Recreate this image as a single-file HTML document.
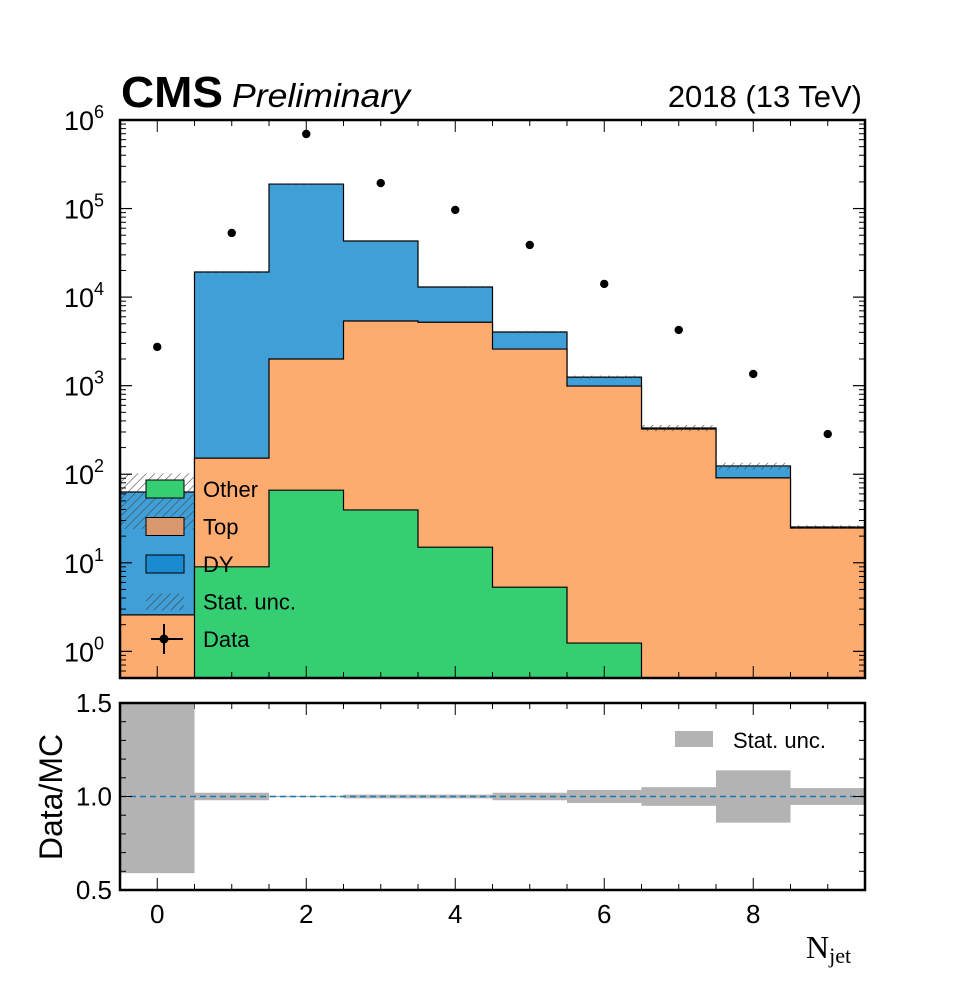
<!DOCTYPE html>
<html><head><meta charset="utf-8"><style>
body{margin:0;background:#fff}
svg{display:block;font-family:"Liberation Sans",sans-serif}
</style></head><body>
<svg id="c" width="960" height="1000">
<defs><pattern id="hatch" width="6" height="6" patternUnits="userSpaceOnUse" patternTransform="rotate(45)"><line x1="0" y1="0" x2="0" y2="6" stroke="#444" stroke-width="1.2"/></pattern></defs>
</svg>
<script>
const bins=[0,1,2,3,4,5,6,7,8,9];
const other=[0,9,66,39.5,15,5.3,1.24,0,0,0];
const topStack=[2.58,152,2000,5370,5200,2590,990,324,91,24.7];
const dyStack=[63,19200,189000,43000,13000,4040,1250,333,124,25.4];
const statUp=[102,19500,192000,44000,13300,4150,1300,360,135,26.5];
const data=[2740,53000,695000,194000,96400,38800,14100,4260,1355,284];
const ratioUp=[0.6,0.02,0.004,0.01,0.01,0.02,0.035,0.05,0.14,0.045];
const ratioDown=[0.41,0.02,0.004,0.01,0.01,0.02,0.035,0.05,0.14,0.045];
const yTicks=[0,1,2,3,4,5,6];
const rTicks=[0.5,1.0,1.5];
const xTicks=[0,2,4,6,8];

const svg=document.getElementById('c');
const NS='http://www.w3.org/2000/svg';
const L=120,R=865,T=120,B=678,RT=703,RB=890;
const X=v=>L+(v+0.5)*(R-L)/10;
const lmin=Math.log10(0.5),lmax=6;
const Y=v=>{const l=Math.log10(Math.max(v,1e-3));return Math.min(B+2,T+(lmax-l)/(lmax-lmin)*(B-T));};
const RY=v=>RT+(1.5-v)*(RB-RT);
function el(t,a,p){const e=document.createElementNS(NS,t);for(const k in a)e.setAttribute(k,a[k]);(p||svg).appendChild(e);return e;}
function txt(s,a,p){const e=el('text',a,p);e.textContent=s;return e;}
const defs=svg.querySelector('defs');
el('rect',{x:L,y:T,width:R-L,height:B-T},el('clipPath',{id:'mc'},defs));
el('rect',{x:L,y:RT,width:R-L,height:RB-RT},el('clipPath',{id:'rc'},defs));
const g=el('g',{'clip-path':'url(#mc)'});



function stepPath(vals){
  let d='';
  bins.forEach((b,i)=>{const y=Y(vals[i]);d+=(i===0?'M':'L')+X(b-0.5)+','+y+'L'+X(b+0.5)+','+y;});
  return d;
}
const layers=[[dyStack,'#3f9fd6','dy'],[topStack,'#feab70','top'],[other,'#36ce72','other']];
layers.forEach(([vals,col,nm])=>{
  bins.forEach((b,i)=>{
    if(vals[i]<=0)return;
    const r=el('rect',{x:X(b-0.5),y:Y(vals[i]),width:X(b+0.5)-X(b-0.5)+0.5,height:B+2-Y(vals[i]),fill:col},g);
    
    
  });
  el('path',{d:stepPath(vals),fill:'none',stroke:'#000','stroke-width':1.2},g);
});
bins.forEach((b,i)=>{
  const lo=2*dyStack[i]-statUp[i];
  const h=el('rect',{x:X(b-0.5),y:Y(statUp[i]),width:X(b+0.5)-X(b-0.5),height:Y(Math.max(lo,0.01))-Y(statUp[i]),fill:'url(#hatch)'},g);
  
  
});
// legend
const leg=[['Other','#36ce72'],['Top','#d9976d'],['DY','#1a8bd0'],['Stat. unc.','hatch'],['Data','pt']];
leg.forEach((l,i)=>{
  const cy=489+i*37.5;
  const lg=el('g',{});
  
  
  if(l[1]==='pt'){el('line',{x1:151,y1:cy,x2:183,y2:cy,stroke:'#000','stroke-width':2},lg);el('line',{x1:164,y1:cy-15,x2:164,y2:cy+15,stroke:'#000','stroke-width':2},lg);el('circle',{cx:164,cy:cy,r:4.5},lg);}
  else if(l[1]==='hatch')el('rect',{x:146,y:cy-8,width:38,height:17,fill:'url(#hatch)'},lg);
  else el('rect',{x:146,y:cy-9,width:38,height:18,fill:l[1],stroke:'#000','stroke-width':1},lg);
  txt(l[0],{x:203,y:cy+8,'font-size':22},lg);
});
bins.forEach((b,i)=>{
  const c=el('circle',{cx:X(b),cy:Y(data[i]),r:4.2,fill:'#000'});
  
  
});
el('rect',{x:L,y:T,width:R-L,height:B-T,fill:'none',stroke:'#000','stroke-width':2.5});
yTicks.forEach(p=>{
  const y=Y(Math.pow(10,p));
  el('line',{x1:L,y1:y,x2:L+12,y2:y,stroke:'#000','stroke-width':1.2});
  el('line',{x1:R-12,y1:y,x2:R,y2:y,stroke:'#000','stroke-width':1.2});
  const t=txt('10',{x:104,y:y+10,'font-size':27,'text-anchor':'end'});
  const s=document.createElementNS(NS,'tspan');s.setAttribute('dy','-12');s.setAttribute('font-size','18');s.textContent=p;t.appendChild(s);
  
  
  for(let m=2;m<10;m++){const yy=Y(m*Math.pow(10,p-1));if(yy<B&&yy>T){el('line',{x1:L,y1:yy,x2:L+6,y2:yy,stroke:'#000'});el('line',{x1:R-6,y1:yy,x2:R,y2:yy,stroke:'#000'});}}
});
for(let v=-0.5;v<=9.5;v+=0.5){const x=X(v);const maj=xTicks.includes(v);const len=maj?12:6;
 [[B,-1],[T,1],[RB,-1],[RT,1]].forEach(([y,d])=>el('line',{x1:x,y1:y,x2:x,y2:y+d*len,stroke:'#000'}));}
const rg=el('g',{'clip-path':'url(#rc)'});
bins.forEach((b,i)=>{
  const r=el('rect',{x:X(b-0.5),y:RY(1+ratioUp[i]),width:X(b+0.5)-X(b-0.5),height:RY(1-ratioDown[i])-RY(1+ratioUp[i]),fill:'#b3b3b3'},rg);
  
  
});
el('line',{x1:L,y1:RY(1),x2:R,y2:RY(1),stroke:'#1f77b4','stroke-width':1.5,'stroke-dasharray':'6,4'});
el('rect',{x:L,y:RT,width:R-L,height:RB-RT,fill:'none',stroke:'#000','stroke-width':2.5});
for(let v=0.5;v<=1.5001;v+=0.1){const y=RY(v);const maj=rTicks.some(t=>Math.abs(t-v)<1e-6);const len=maj?12:6;
 el('line',{x1:L,y1:y,x2:L+len,y2:y,stroke:'#000'});el('line',{x1:R-len,y1:y,x2:R,y2:y,stroke:'#000'});}
rTicks.forEach(v=>{const t=txt(v.toFixed(1),{x:112,y:RY(v)+9,'font-size':26,'text-anchor':'end'});
 });
xTicks.forEach(v=>{const t=txt(v,{x:X(v),y:923,'font-size':26,'text-anchor':'middle'});
 });
el('rect',{x:675,y:731,width:38,height:16,fill:'#b3b3b3'});
txt('Stat. unc.',{x:733,y:748,'font-size':22});
const yl=txt('Data/MC',{x:0,y:0,'font-size':32,transform:'translate(62,797) rotate(-90)','text-anchor':'middle'});

const xl=txt('N',{x:806,y:958,'font-size':32,'font-family':'Liberation Serif, serif'});
const sub=document.createElementNS(NS,'tspan');sub.setAttribute('dy','5');sub.setAttribute('font-size','22');sub.textContent='jet';xl.appendChild(sub);

const cms=txt('CMS',{x:121,y:107,'font-size':44,'font-weight':'bold','textLength':102,'lengthAdjust':'spacingAndGlyphs'});

txt('Preliminary',{x:232,y:107,'font-size':33,'font-style':'italic','textLength':178,'lengthAdjust':'spacingAndGlyphs'});
const lumi=txt('2018 (13 TeV)',{x:862,y:107,'font-size':31,'text-anchor':'end'});

</script>
</body></html>
